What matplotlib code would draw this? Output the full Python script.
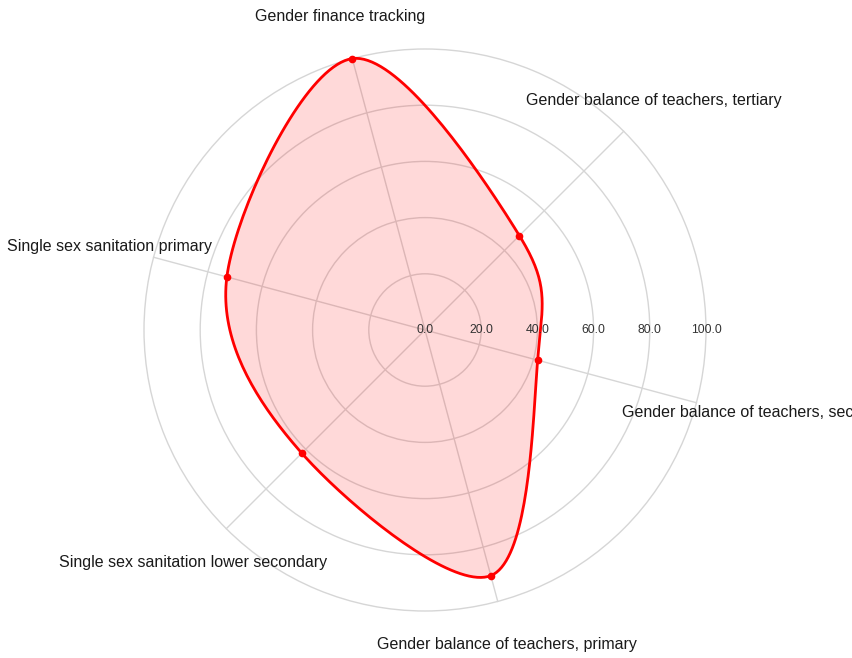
import numpy as np
import matplotlib.pyplot as plt

categories = ["Gender finance tracking",
              "Single sex sanitation primary",
              "Single sex sanitation lower secondary",
              "Gender balance of teachers, primary",
              "Gender balance of teachers, secondary",
              "Gender balance of teachers, tertiary"]
values = [100.0, 73.0, 62.0, 90.5, 41.5, 47.5]
rticks = [0, 20, 40, 60, 80, 100]
rtick_labels = ["0.0", "20.0", "40.0", "60.0", "80.0", "100.0"]

W, H = 852, 658
cx, cy, R = 425, 330, 281

fig = plt.figure(figsize=(W / 100, H / 100), dpi=100)
ax = fig.add_axes([(cx - R) / W, (H - cy - R) / H, 2 * R / W, 2 * R / H], polar=True)

angles = np.deg2rad(105 + 60 * np.arange(len(categories)))
vals = np.array(values)

# closed catmull-rom spline in cartesian space
px = vals * np.cos(angles)
py = vals * np.sin(angles)
n = len(px)
sx, sy = [], []
for i in range(n):
    p0 = np.array([px[i - 1], py[i - 1]])
    p1 = np.array([px[i], py[i]])
    p2 = np.array([px[(i + 1) % n], py[(i + 1) % n]])
    p3 = np.array([px[(i + 2) % n], py[(i + 2) % n]])
    for t in np.linspace(0, 1, 40, endpoint=False):
        pt = 0.5 * ((2 * p1) + (-p0 + p2) * t +
                    (2 * p0 - 5 * p1 + 4 * p2 - p3) * t ** 2 +
                    (-p0 + 3 * p1 - 3 * p2 + p3) * t ** 3)
        sx.append(pt[0])
        sy.append(pt[1])
sx.append(sx[0])
sy.append(sy[0])
sx, sy = np.array(sx), np.array(sy)
st = np.unwrap(np.arctan2(sy, sx))
sr = np.hypot(sx, sy)

ax.fill(st, sr, color="red", alpha=0.15, lw=0, zorder=2)
ax.plot(st, sr, color="red", lw=2.0, zorder=3, clip_on=False)
ax.plot(angles, vals, "o", color="red", ms=4.5, zorder=4, clip_on=False)

ax.set_xlim(0, 2 * np.pi)
ax.set_ylim(0, 100)
ax.set_yticks(rticks[1:])
ax.set_yticklabels([])
ax.set_xticks(angles % (2 * np.pi))
ax.set_xticklabels([])
ax.grid(color="#d6d6d6", lw=1)
for gl in ax.yaxis.get_gridlines() + ax.xaxis.get_gridlines():
    gl.set_clip_on(False)
ax.spines["polar"].set_visible(False)
ax.set_facecolor("none")

fnt = ["Liberation Sans", "DejaVu Sans"]
for v, lab in zip(rticks, rtick_labels):
    ax.text(0, v, lab, ha="center", va="center", fontsize=8.8,
            family=fnt, color="#333", zorder=5)

label_pos = [(340, 17, "center"), (212, 247, "right"), (327, 562, "right"),
             (507, 644, "center"), (622, 413, "left"), (526, 100, "left")]
for lab, (x, y, ha) in zip(categories, label_pos):
    fig.text(x / W, 1 - y / H, lab, ha=ha, va="center", fontsize=11.5,
             family=fnt, color="#1a1a1a")

fig.savefig("out.png", dpi=100)
